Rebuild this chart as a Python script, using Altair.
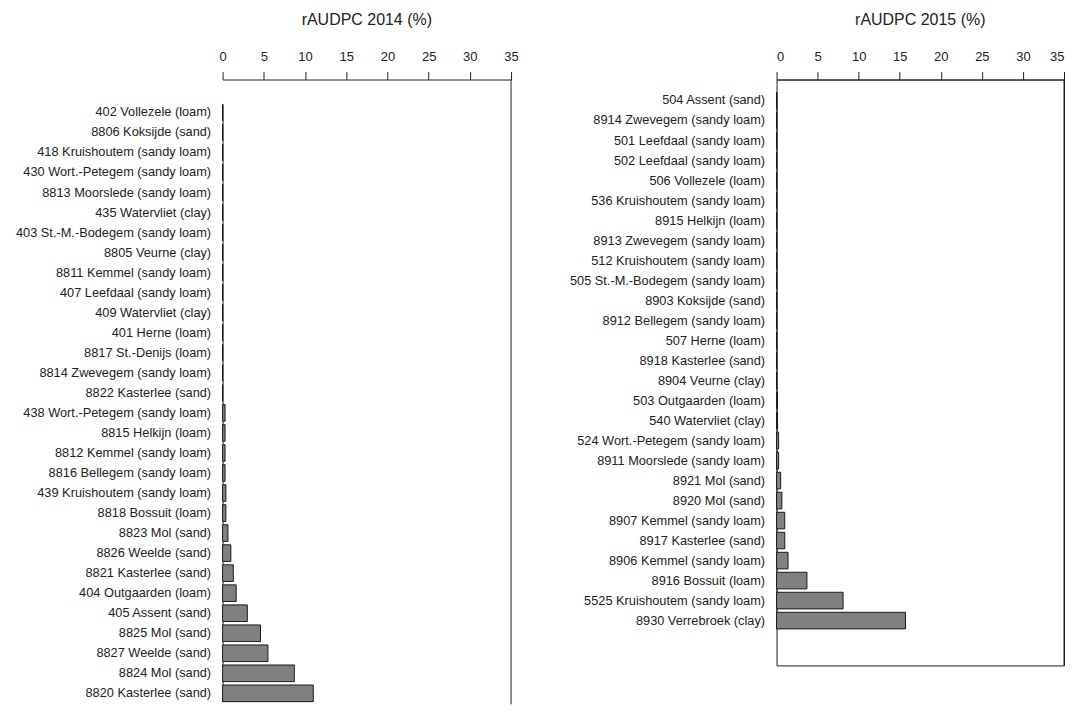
import altair as alt
import pandas as pd

FONT = "Liberation Sans"

sites_2014 = [
    "402 Vollezele (loam)", "8806 Koksijde (sand)", "418 Kruishoutem (sandy loam)",
    "430 Wort.-Petegem (sandy loam)", "8813 Moorslede (sandy loam)", "435 Watervliet (clay)",
    "403 St.-M.-Bodegem (sandy loam)", "8805 Veurne (clay)", "8811 Kemmel (sandy loam)",
    "407 Leefdaal (sandy loam)", "409 Watervliet (clay)", "401 Herne (loam)",
    "8817 St.-Denijs (loam)", "8814 Zwevegem (sandy loam)", "8822 Kasterlee (sand)",
    "438 Wort.-Petegem (sandy loam)", "8815 Helkijn (loam)", "8812 Kemmel (sandy loam)",
    "8816 Bellegem (sandy loam)", "439 Kruishoutem (sandy loam)", "8818 Bossuit (loam)",
    "8823 Mol (sand)", "8826 Weelde (sand)", "8821 Kasterlee (sand)",
    "404 Outgaarden (loam)", "405 Assent (sand)", "8825 Mol (sand)",
    "8827 Weelde (sand)", "8824 Mol (sand)", "8820 Kasterlee (sand)",
]
values_2014 = [
    0, 0, 0, 0, 0, 0, 0, 0, 0, 0, 0, 0, 0, 0, 0,
    0.3, 0.3, 0.3, 0.3, 0.4, 0.4, 0.65, 1.0, 1.3, 1.65, 3.0, 4.6, 5.5, 8.7, 11.0,
]

sites_2015 = [
    "504 Assent (sand)", "8914 Zwevegem (sandy loam)", "501 Leefdaal (sandy loam)",
    "502 Leefdaal (sandy loam)", "506 Vollezele (loam)", "536 Kruishoutem (sandy loam)",
    "8915 Helkijn (loam)", "8913 Zwevegem (sandy loam)", "512 Kruishoutem (sandy loam)",
    "505 St.-M.-Bodegem (sandy loam)", "8903 Koksijde (sand)", "8912 Bellegem (sandy loam)",
    "507 Herne (loam)", "8918 Kasterlee (sand)", "8904 Veurne (clay)",
    "503 Outgaarden (loam)", "540 Watervliet (clay)", "524 Wort.-Petegem (sandy loam)",
    "8911 Moorslede (sandy loam)", "8921 Mol (sand)", "8920 Mol (sand)",
    "8907 Kemmel (sandy loam)", "8917 Kasterlee (sand)", "8906 Kemmel (sandy loam)",
    "8916 Bossuit (loam)", "5525 Kruishoutem (sandy loam)", "8930 Verrebroek (clay)",
]
values_2015 = [
    0, 0, 0, 0, 0, 0, 0, 0, 0, 0, 0, 0, 0, 0, 0,
    0.1, 0.12, 0.25, 0.25, 0.5, 0.65, 1.0, 1.0, 1.4, 3.7, 8.1, 15.7,
]

x_ticks = [0, 5, 10, 15, 20, 25, 30, 35]


def panel(sites, values, title, width, height, band_range, boxed, flush):
    df = pd.DataFrame({"site": sites, "value": values})
    bars = alt.Chart(df).mark_bar(color="#808080", stroke="#1a1a1a", strokeWidth=1).encode(
        x=alt.X(
            "value:Q",
            scale=alt.Scale(domain=[0, 35], nice=False, zero=True),
            axis=alt.Axis(
                orient="top", values=x_ticks, title=None, grid=False, tickSize=8,
                labelPadding=8, labelFontSize=13, labelFont=FONT, labelColor="#222",
                domainColor="#222", tickColor="#222", labelFlush=flush,
                minExtent=29, maxExtent=29,
            ),
        ),
        y=alt.Y(
            "site:N",
            sort=sites,
            scale=alt.Scale(paddingInner=0.17, paddingOuter=0, range=band_range),
            axis=alt.Axis(
                title=None, ticks=False, domain=True, domainColor="#222",
                labelFontSize=12.8, labelFont=FONT, labelColor="#222", labelPadding=12,
                labelLimit=0, minExtent=214, maxExtent=214,
            ),
        ),
    )
    edge = alt.Chart(pd.DataFrame({"x": [35]})).mark_rule(color="#222").encode(x="x:Q")
    props = dict(
        width=width,
        height=height,
        title=alt.TitleParams(
            text=title, fontSize=16, fontWeight="normal", font=FONT, color="#222",
            anchor="middle", offset=22, dy=-1,
        ),
    )
    if boxed:
        props["view"] = alt.ViewBackground(stroke="#222")
    return alt.layer(bars, edge).properties(**props)


left = panel(sites_2014, values_2014, "rAUDPC 2014 (%)", 289, 626, [24.6, 623.3], False, False)
right = panel(sites_2015, values_2015, "rAUDPC 2015 (%)", 288, 587, [12.7, 550.4], True, True)

chart = (
    alt.hconcat(left, right, spacing=43)
    .properties(padding={"top": 2, "left": 0, "right": 0, "bottom": 0})
    .configure_view(stroke="transparent")
)

chart.save("out.html", embed_options={"renderer": "svg", "actions": False})
